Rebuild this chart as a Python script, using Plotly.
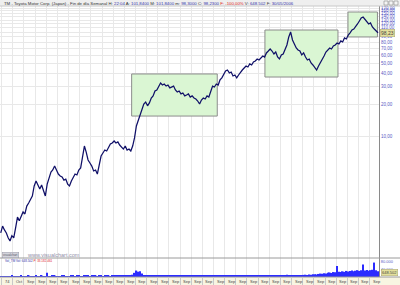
import numpy as np
import pandas as pd
import plotly.graph_objects as go

# ---------------- data ----------------
dates = pd.date_range("1974-08-01", periods=204, freq="2MS")

close = [
    1.17, 1.36, 1.25, 1.17, 1.05, 0.978, 1.10, 1.05, 1.31, 1.66,
    1.53, 1.70, 1.86, 1.78, 2.12, 2.27, 2.48, 2.65, 3.31, 3.69,
    3.38, 3.10, 3.38, 2.90, 2.65, 3.45, 4.04, 4.51, 4.71, 5.14,
    4.71, 4.31, 4.13, 4.04, 3.77, 3.85, 3.45, 3.31, 3.69, 4.04,
    4.31, 4.22, 4.71, 4.93, 6.28, 8.01, 7.01, 5.88, 5.50, 5.14,
    4.61, 4.71, 4.31, 5.26, 6.42, 6.86, 7.33, 7.17, 7.84, 8.37,
    8.57, 8.96, 8.57, 8.77, 8.19, 7.84, 7.49, 8.01, 7.33, 7.49,
    7.17, 8.01, 9.58, 12.5, 14.3, 16.3, 18.6, 20.3, 21.2, 19.5,
    20.8, 23.2, 24.3, 27.1, 27.7, 30.2, 32.3, 30.9, 31.6, 30.2,
    30.9, 29.0, 29.6, 30.2, 27.7, 26.5, 27.1, 25.4, 25.9, 24.3,
    24.8, 25.4, 23.7, 24.3, 23.2, 22.7, 21.7, 20.3, 22.2, 23.2,
    22.7, 24.3, 23.7, 26.5, 30.2, 29.6, 31.6, 30.9, 34.6, 36.2,
    38.6, 42.2, 43.1, 40.4, 41.2, 37.8, 38.6, 36.2, 38.6, 41.2,
    43.1, 45.1, 47.1, 46.1, 49.3, 48.2, 51.5, 52.6, 55.0, 53.8,
    56.3, 58.8, 57.5, 62.9, 65.6, 68.6, 65.6, 61.4, 64.2, 57.5,
    55.0, 60.1, 61.4, 68.6, 75.0, 89.6, 100.0, 83.8, 75.0, 70.2,
    67.1, 65.6, 60.1, 62.9, 57.5, 53.8, 55.0, 50.4, 48.2, 45.1,
    43.1, 47.1, 50.4, 53.8, 58.8, 64.2, 67.1, 70.2, 68.6, 73.4,
    75.0, 78.4, 76.7, 82.0, 80.2, 87.7, 85.7, 93.6, 97.9, 104.5,
    106.8, 111.7, 119.4, 127.5, 136.4, 139.4, 133.3, 124.8, 119.4, 122.2,
    111.7, 106.8, 102.2, 98.23,
]

volume = [
    4000, 5000, 3500, 4500, 5000, 4000, 6000, 4500, 5000, 3500,
    4000, 5500, 4500, 5000, 4000, 6000, 5000, 4500, 5000, 5500,
    4000, 5000, 6000, 4500, 5000, 22000, 5000, 4500, 5500, 6000,
    5000, 4500, 5000, 5500, 6000, 5000, 4500, 5000, 6500, 5500,
    5000, 6000, 5500, 5000, 4500, 7000, 6000, 5500, 5000, 6000,
    6500, 5500, 5000, 6000, 5500, 5000, 6500, 6000, 5500, 5000,
    6000, 7000, 6500, 6000, 5500, 6000, 7000, 6500, 6000, 7500,
    8000, 12000, 22000, 34000, 28000, 30000, 18000, 11000, 9000, 8000,
    7500, 7000, 6500, 7000, 6000, 6500, 7000, 6000, 6500, 6000,
    5500, 6000, 6500, 6000, 5500, 6000, 6500, 6000, 5500, 6000,
    6500, 7000, 6000, 5500, 6000, 6500, 7000, 6500, 6000, 6500,
    7000, 6000, 6500, 7500, 7000, 6500, 7000, 7500, 7000, 6500,
    7500, 8000, 7000, 7500, 8000, 7000, 7500, 8000, 7500, 8000,
    7000, 7500, 8500, 8000, 7500, 8000, 8500, 8000, 7500, 8000,
    8500, 9000, 8000, 8500, 9000, 8500, 8000, 9000, 8500, 9000,
    9500, 8500, 9000, 10000, 12000, 9500, 9000, 8500, 9000, 8500,
    9000, 9000, 10000, 11000, 12000, 10000, 13000, 12000, 14000, 15000,
    13000, 16000, 18000, 17000, 20000, 19000, 22000, 24000, 21000, 26000,
    25000, 58000, 28000, 26000, 30000, 27000, 32000, 29000, 31000, 34000,
    30000, 33000, 36000, 32000, 35000, 66000, 34000, 37000, 33000, 36000,
    38000, 76000, 35000, 30000,
]

year_ticks = [f"{y}-09-01" for y in range(1974, 2008)]
year_labels = ["74", "Oct"] + ["Sep"] * 32

price_ticks = [10, 20, 30, 40, 50, 60, 70, 80, 90, 100, 110, 120, 130, 140, 150, 160, 170]
price_labels = [f"{v},00" for v in price_ticks]

vol_ticks = [40000, 80000]
vol_labels = ["40.000", "80.000"]

box_start = ["1986-04-29", "1998-04-12", "2005-09-22"]
box_end = ["1994-01-01", "2004-10-30", "2008-05-15"]
box_low = [15.55, 36.9, 89.6]
box_high = [39.5, 104.5, 155.7]

title_text = ("TM - Toyota Motor Corp. (Japan) - Fin de día Semanal H: "
              "<span style='color:#3333aa'>22:04</span> A: <span style='color:#3333aa'>101,8400</span> "
              "M: <span style='color:#3333aa'>101,8400</span> m: <span style='color:#3333aa'>98,3000</span> "
              "C: <span style='color:#3333aa'>98,2300</span> <span style='color:#dd2222'>F: -100,00%</span> "
              "V: <span style='color:#3333aa'>648.502</span> F: <span style='color:#3333aa'>30/05/2006</span>")

# ---------------- layout geometry ----------------
W, H = 400, 285
ml, mr, mt, mb = 0, 21, 6, 8
plot_h = H - mt - mb          # 271
plot_w = W - ml - mr          # 379
vol_frac = 19 / plot_h

def py(px_y):   # pixel y (from top) -> paper y
    return (H - mb - px_y) / plot_h

def px(px_x):   # pixel x -> paper x
    return (px_x - ml) / plot_w

FONT = "Liberation Sans, Arial, sans-serif"

fig = go.Figure()

# highlight boxes
for x0, x1, y0, y1 in zip(box_start, box_end, box_low, box_high):
    fig.add_trace(go.Scatter(
        x=[x0, x1, x1, x0, x0], y=[y0, y0, y1, y1, y0],
        mode="lines", fill="toself", fillcolor="#daf6d3",
        line=dict(color="#8c8c8c", width=1), hoverinfo="skip", showlegend=False,
        xaxis="x", yaxis="y"))

# price line
fig.add_trace(go.Scatter(
    x=dates, y=close, mode="lines",
    line=dict(color="#101068", width=1.25), showlegend=False,
    xaxis="x", yaxis="y"))

# volume
fig.add_trace(go.Bar(
    x=dates, y=volume, marker=dict(color="#2b2bff", line=dict(width=0)),
    showlegend=False, xaxis="x", yaxis="y2"))

shapes = [
    dict(type="rect", xref="paper", yref="paper", x0=px(0), x1=px(W), y0=py(6), y1=py(0),
         fillcolor="#efefef", line=dict(width=0), layer="below"),
    dict(type="rect", xref="paper", yref="paper", x0=px(0), x1=px(W), y0=py(H), y1=py(277),
         fillcolor="#f8f5e2", line=dict(width=0), layer="below"),
    dict(type="line", xref="paper", yref="paper", x0=px(0), x1=px(W), y0=vol_frac, y1=vol_frac,
         line=dict(color="#9a9a9a", width=1)),
    dict(type="line", xref="paper", yref="paper", x0=px(0), x1=px(W), y0=0, y1=0,
         line=dict(color="#9a9a9a", width=1)),
    dict(type="line", xref="paper", yref="paper", x0=px(0), x1=px(W), y0=1, y1=1,
         line=dict(color="#c8c8c8", width=1)),
]
for i in range(3):
    shapes.append(dict(type="rect", xref="paper", yref="paper",
                       x0=px(384 + 5 * i), x1=px(388 + 5 * i), y0=py(5), y1=py(1),
                       fillcolor="#f4f4f4", line=dict(color="#8a8a8a", width=0.6)))

annotations = [
    dict(text=title_text, xref="paper", yref="paper", x=px(2), y=py(3.2),
         xanchor="left", yanchor="middle", showarrow=False,
         font=dict(size=4.3, color="#333333", family=FONT)),
    dict(text=f"{close[-1]:.2f}".replace(".", ","), xref="paper", yref="y",
         x=px(380), y=np.log10(close[-1]), xanchor="left", yanchor="middle", showarrow=False,
         bgcolor="#e4e09c", bordercolor="#a8a470", borderwidth=0.5, borderpad=0.5,
         font=dict(size=5, color="#444444", family=FONT)),
    dict(text="648.502", xref="paper", yref="paper", x=px(381), y=py(272.5),
         xanchor="left", yanchor="middle", showarrow=False,
         bgcolor="#e4e09c", bordercolor="#a8a470", borderwidth=0.5, borderpad=0.5,
         font=dict(size=4, color="#444444", family=FONT)),
    dict(text="visualchart", xref="paper", yref="paper", x=px(2), y=py(254.5),
         xanchor="left", yanchor="middle", showarrow=False,
         bgcolor="#d4d4dc", bordercolor="#9a9aa8", borderwidth=0.5, borderpad=0.6,
         font=dict(size=3, color="#555566", family=FONT)),
    dict(text="www.visualchart.com", xref="paper", yref="paper", x=px(25), y=py(254.5),
         xanchor="left", yanchor="middle", showarrow=False,
         font=dict(size=5.5, color="#9090a8", family=FONT)),
    dict(text="Vol_TM Vol: 648.502 <span style='color:#dd2222'>P: 33.182.461</span>",
         xref="paper", yref="paper", x=px(3), y=py(260.5),
         xanchor="left", yanchor="middle", showarrow=False,
         font=dict(size=3, color="#3333aa", family=FONT)),
]
for d, lab in zip(year_ticks, year_labels):
    annotations.append(dict(text=lab, xref="x", yref="paper", x=d, y=py(281.2),
                            xanchor="left", yanchor="middle", xshift=1, showarrow=False,
                            font=dict(size=4, color="#444444", family=FONT)))

fig.update_layout(
    width=W, height=H,
    margin=dict(l=ml, r=mr, t=mt, b=mb, pad=0),
    paper_bgcolor="white", plot_bgcolor="white",
    showlegend=False, bargap=0.15,
    font=dict(family=FONT),
    xaxis=dict(type="date", range=["1974-07-08", "2008-07-05"], anchor="y2",
               tickvals=year_ticks, showticklabels=False,
               showgrid=True, gridcolor="#e8e8e8", gridwidth=1,
               ticks="outside", ticklen=8, tickcolor="#c8c8c8", tickwidth=1,
               showline=False, zeroline=False, fixedrange=True),
    yaxis=dict(type="log", domain=[vol_frac, 1], range=[-0.173, 2.25], side="right",
               anchor="x", tickvals=price_ticks, ticktext=price_labels,
               tickfont=dict(size=4.5, color="#5a5ac4", family=FONT),
               showgrid=True, gridcolor="#e8e8e8", gridwidth=1,
               showline=True, linecolor="#8a8a8a", linewidth=1,
               ticks="", zeroline=False),
    yaxis2=dict(domain=[0, vol_frac], range=[0, 100000], side="right", anchor="x",
                tickvals=vol_ticks, ticktext=vol_labels,
                tickfont=dict(size=4, color="#5a5ac4", family=FONT),
                showgrid=False, showline=True, linecolor="#8a8a8a", linewidth=1,
                ticks="", zeroline=False),
    shapes=shapes,
    annotations=annotations,
)

fig.write_html("out.html")
